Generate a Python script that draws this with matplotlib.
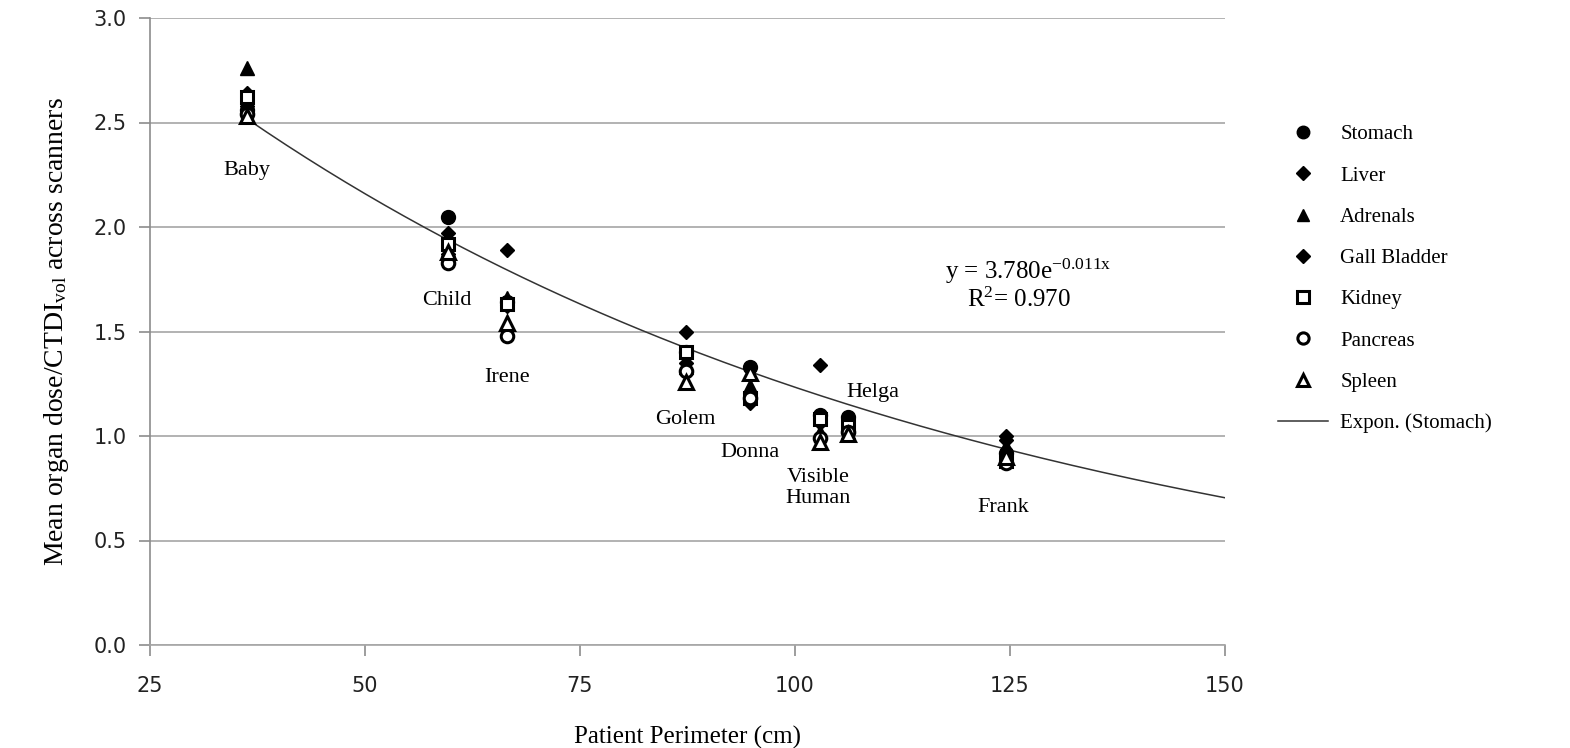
import numpy as np
import matplotlib.pyplot as plt

# Mean organ dose / CTDIvol vs patient perimeter, per organ

# phantoms and their perimeter (cm)
patients = ['Baby', 'Child', 'Irene', 'Golem', 'Donna', 'Visible\nHuman', 'Helga', 'Frank']
perimeter = [36.3, 59.7, 66.5, 87.3, 94.8, 102.9, 106.2, 124.5]

# normalized organ dose, same order as patients
stomach = [2.56, 2.05, 1.64, 1.40, 1.33, 1.10, 1.09, 0.92]
liver = [2.64, 1.97, 1.62, 1.35, 1.16, 1.06, 1.04, 1.00]
adrenals = [2.76, 1.89, 1.66, 1.33, 1.24, 1.02, 1.02, 0.95]
gall_bladder = [2.58, 1.87, 1.89, 1.50, 1.19, 1.34, 1.03, 0.98]
kidney = [2.62, 1.92, 1.63, 1.40, 1.18, 1.08, 1.05, 0.88]
pancreas = [2.54, 1.83, 1.48, 1.31, 1.18, 0.99, 1.02, 0.87]
spleen = [2.53, 1.88, 1.54, 1.26, 1.30, 0.97, 1.01, 0.90]

# exponential trendline on stomach (y = a*exp(b*x))
fit_a = 3.780
fit_b = -0.0112
fit_b_label = '-0.011'
fit_r2 = 0.970

serif = 'Liberation Serif'
plt.rcParams['mathtext.fontset'] = 'custom'
plt.rcParams['mathtext.rm'] = serif
plt.rcParams['mathtext.it'] = serif + ':italic'

fig = plt.figure(figsize=(15.7, 7.48), dpi=100)
ax = fig.add_axes([150 / 1570, 1 - 645 / 748, 1075 / 1570, 627 / 748])

# series: (label, values, marker, size, filled)
series = [
    ('Stomach', stomach, 'o', 10, True),
    ('Liver', liver, 'D', 7.5, True),
    ('Adrenals', adrenals, '^', 10, True),
    ('Gall Bladder', gall_bladder, 'D', 7.5, True),
    ('Kidney', kidney, 's', 9, False),
    ('Pancreas', pancreas, 'o', 9, False),
    ('Spleen', spleen, '^', 10, False),
]
for name, vals, mk, ms, filled in series:
    ax.plot(perimeter, vals, linestyle='none', marker=mk, markersize=ms,
            markerfacecolor='black' if filled else 'white',
            markeredgecolor='black', markeredgewidth=2.2 if not filled else 1,
            label=name, zorder=3)

# trendline
xs = np.linspace(min(perimeter), 150, 200)
ax.plot(xs, fit_a * np.exp(fit_b * xs), color='#333333', lw=1.1,
        label='Expon. (Stomach)', zorder=2)

# phantom names
label_pos = [(36.3, 2.27), (59.5, 1.65), (66.5, 1.28), (87.2, 1.08),
             (94.8, 0.92), (102.7, 0.75), (109.0, 1.21), (124.2, 0.66)]
for name, (lx, ly) in zip(patients, label_pos):
    ax.text(lx, ly, name, family=serif, fontsize=16, ha='center', va='center',
            linespacing=1.15, zorder=4)

# equation
ax.text(127.1, 1.79, r'y = %.3fe$^{\mathrm{%s x}}$' % (fit_a, fit_b_label), family=serif,
        fontsize=18, ha='center', va='center')
ax.text(126.0, 1.65, r'R$^2$= %.3f' % fit_r2, family=serif, fontsize=18,
        ha='center', va='center')

ax.set_xlim(25, 150)
ax.set_ylim(0, 3.0)
ax.set_xticks([25, 50, 75, 100, 125, 150])
ax.set_yticks(np.arange(0, 3.01, 0.5))
ax.yaxis.set_major_formatter(plt.FormatStrFormatter('%.1f'))
ax.grid(axis='y', color='#a6a6a6', lw=1.2)
ax.set_axisbelow(True)
for s in ['top', 'right']:
    ax.spines[s].set_visible(False)
ax.spines['left'].set_color('#8c8c8c')
ax.spines['bottom'].set_color('#a6a6a6')
ax.spines['left'].set_linewidth(1.2)
ax.spines['bottom'].set_linewidth(1.2)
ax.tick_params(axis='both', colors='#8c8c8c', labelcolor='#222222', labelsize=15,
               length=8, width=1.2, direction='out')
ax.tick_params(axis='y', pad=9)
ax.tick_params(axis='x', pad=14)

ax.set_xlabel('Patient Perimeter (cm)', family=serif, fontsize=18, labelpad=22)
ax.set_ylabel(r'Mean organ dose/CTDI$_{\mathrm{vol}}$ across scanners', family=serif,
              fontsize=20, labelpad=16)

fig.legend(loc='upper left', bbox_to_anchor=(1259 / 1570, 1 - 106 / 748),
           frameon=False, prop={'family': serif, 'size': 15}, labelspacing=1.04,
           handlelength=2.4, handletextpad=0.6, markerscale=0.9)

plt.savefig('out.png', dpi=100)
